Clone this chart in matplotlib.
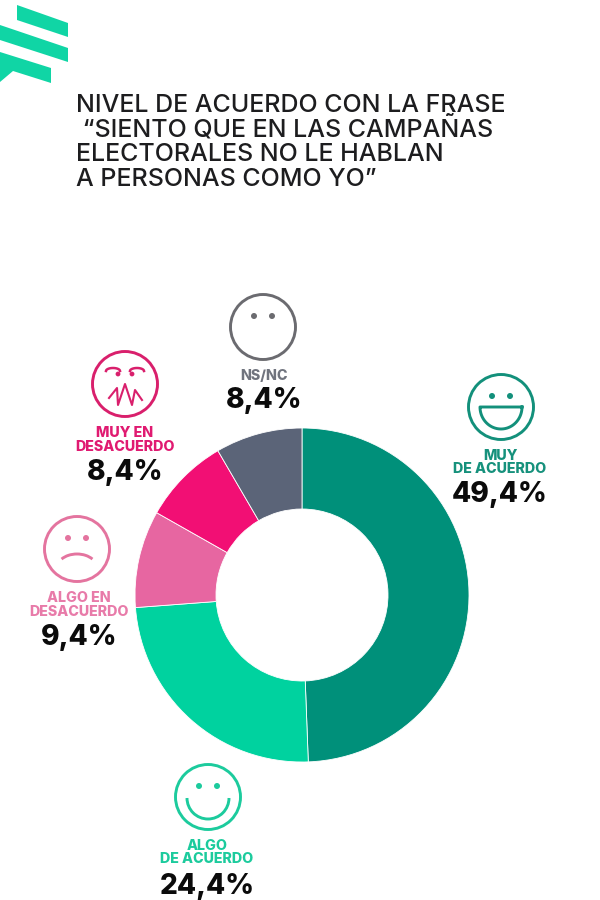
import numpy as np
import matplotlib
matplotlib.use("Agg")
import matplotlib.pyplot as plt
from matplotlib.patches import Circle, Polygon, Arc

categories = ["MUY\nDE ACUERDO", "ALGO\nDE ACUERDO", "ALGO EN\nDESACUERDO", "MUY EN\nDESACUERDO", "NS/NC"]
values = [49.4, 24.4, 9.4, 8.4, 8.4]
value_labels = ["49,4%", "24,4%", "9,4%", "8,4%", "8,4%"]
title_lines = ["NIVEL DE ACUERDO CON LA FRASE", " “SIENTO QUE EN LAS CAMPAÑAS",
               "ELECTORALES NO LE HABLAN", "A PERSONAS COMO YO”"]
slice_colors = ["#00907A", "#00D29F", "#E766A1", "#F20F74", "#5B6478"]
label_colors = ["#16917C", "#1CCB9D", "#E87BA9", "#E01A71", "#70747E"]
FONT = "Inter"

fig = plt.figure(figsize=(6, 9), dpi=100, facecolor="white")
ax = fig.add_axes([0, 0, 1, 1])
ax.set_xlim(0, 600)
ax.set_ylim(0, 900)
ax.set_aspect("equal")
ax.axis("off")

def Y(p):
    return 900 - p

# logo
for pts in ([(17, 5), (68, 23), (68, 37), (17, 20)],
            [(0, 25), (68, 48), (68, 62), (0, 40)],
            [(0, 52), (51, 68), (51, 83), (13, 71), (0, 82)]):
    ax.add_patch(Polygon([(x, Y(y)) for x, y in pts], closed=True, fc="#10D5A5", ec="none"))

# title
for line, yp in zip(title_lines, [112, 137, 161, 186]):
    ax.text(76, Y(yp), line, fontsize=18, family=FONT, color="#1d1d1f", ha="left",
            va="baseline", fontweight="medium")

# donut
ax.pie(values, colors=slice_colors, startangle=90, counterclock=False, center=(302, Y(595)),
       radius=167, wedgeprops=dict(width=81, edgecolor="white", linewidth=0.6), frame=True)
ax.set_xlim(0, 600)
ax.set_ylim(0, 900)
ax.axis("off")

# label layout: icon centre, label baselines, value baseline, text centre x
layout = [((501, 407), [460, 473], 502, 500),
          ((208, 797), [850, 863], 894, 207),
          ((77, 549), [602, 616], 645, 79),
          ((125, 384), [437, 451], 480, 125),
          ((263, 327), [380], 408, 264)]

for cat, vl, col, (ic, lys, vy, tx) in zip(categories, value_labels, label_colors, layout):
    for part, ly in zip(cat.split("\n"), lys):
        ax.text(tx, Y(ly), part, fontsize=10.3, family=FONT, fontweight="heavy", color=col,
                ha="center", va="baseline")
    ax.text(tx, Y(vy), vl, fontsize=20.2, family=FONT, fontweight="heavy", color="#0b0b0b",
            ha="center", va="baseline")

def face(center, col, kind="neutral"):
    cx, cy = center
    ax.add_patch(Circle((cx, Y(cy)), 32.5, fc="none", ec=col, lw=2.1))
    if kind != "angry":
        for dx in (-9, 9):
            ax.add_patch(Circle((cx + dx, Y(cy - 11)), 3, fc=col, ec="none"))
    if kind == "big":
        t = np.linspace(0, np.pi, 40)
        xs = cx + 21 * np.cos(t)
        ys = Y(cy) - 22 * np.sin(t)
        ax.plot(list(xs) + [xs[0]], list(ys) + [ys[0]], color=col, lw=2.1)
    elif kind == "smile":
        ax.add_patch(Arc((cx, Y(cy + 1)), 42, 42, theta1=180, theta2=360, ec=col, lw=2.1))
    elif kind == "sad":
        ax.add_patch(Arc((cx, Y(cy + 19)), 40, 28, theta1=30, theta2=150, ec=col, lw=2.1))
    elif kind == "angry":
        for s in (-1, 1):
            t = np.linspace(0, np.pi, 20)
            ax.plot(cx + s * (12 + 7 * np.cos(t)), Y(cy - 13) + 3 * np.sin(t), color=col, lw=1.8)
            ax.add_patch(Circle((cx + s * 7, Y(cy - 10)), 2.4, fc=col, ec="none"))
        zx = [-16, -8, -7, 0, 7, 10, 17]
        zy = [14, 4, 21, 0, 21, 6, 16]
        ax.plot([cx + a for a in zx], [Y(cy + b) for b in zy], color=col, lw=1.5)

face(layout[0][0], "#13907B", kind="big")
face(layout[1][0], "#1CCB9D", kind="smile")
face(layout[2][0], "#E4749F", kind="sad")
face(layout[3][0], "#D91F6C", kind="angry")
face(layout[4][0], "#6B6B70", kind="neutral")

fig.savefig("out.png", dpi=100, facecolor="white")
